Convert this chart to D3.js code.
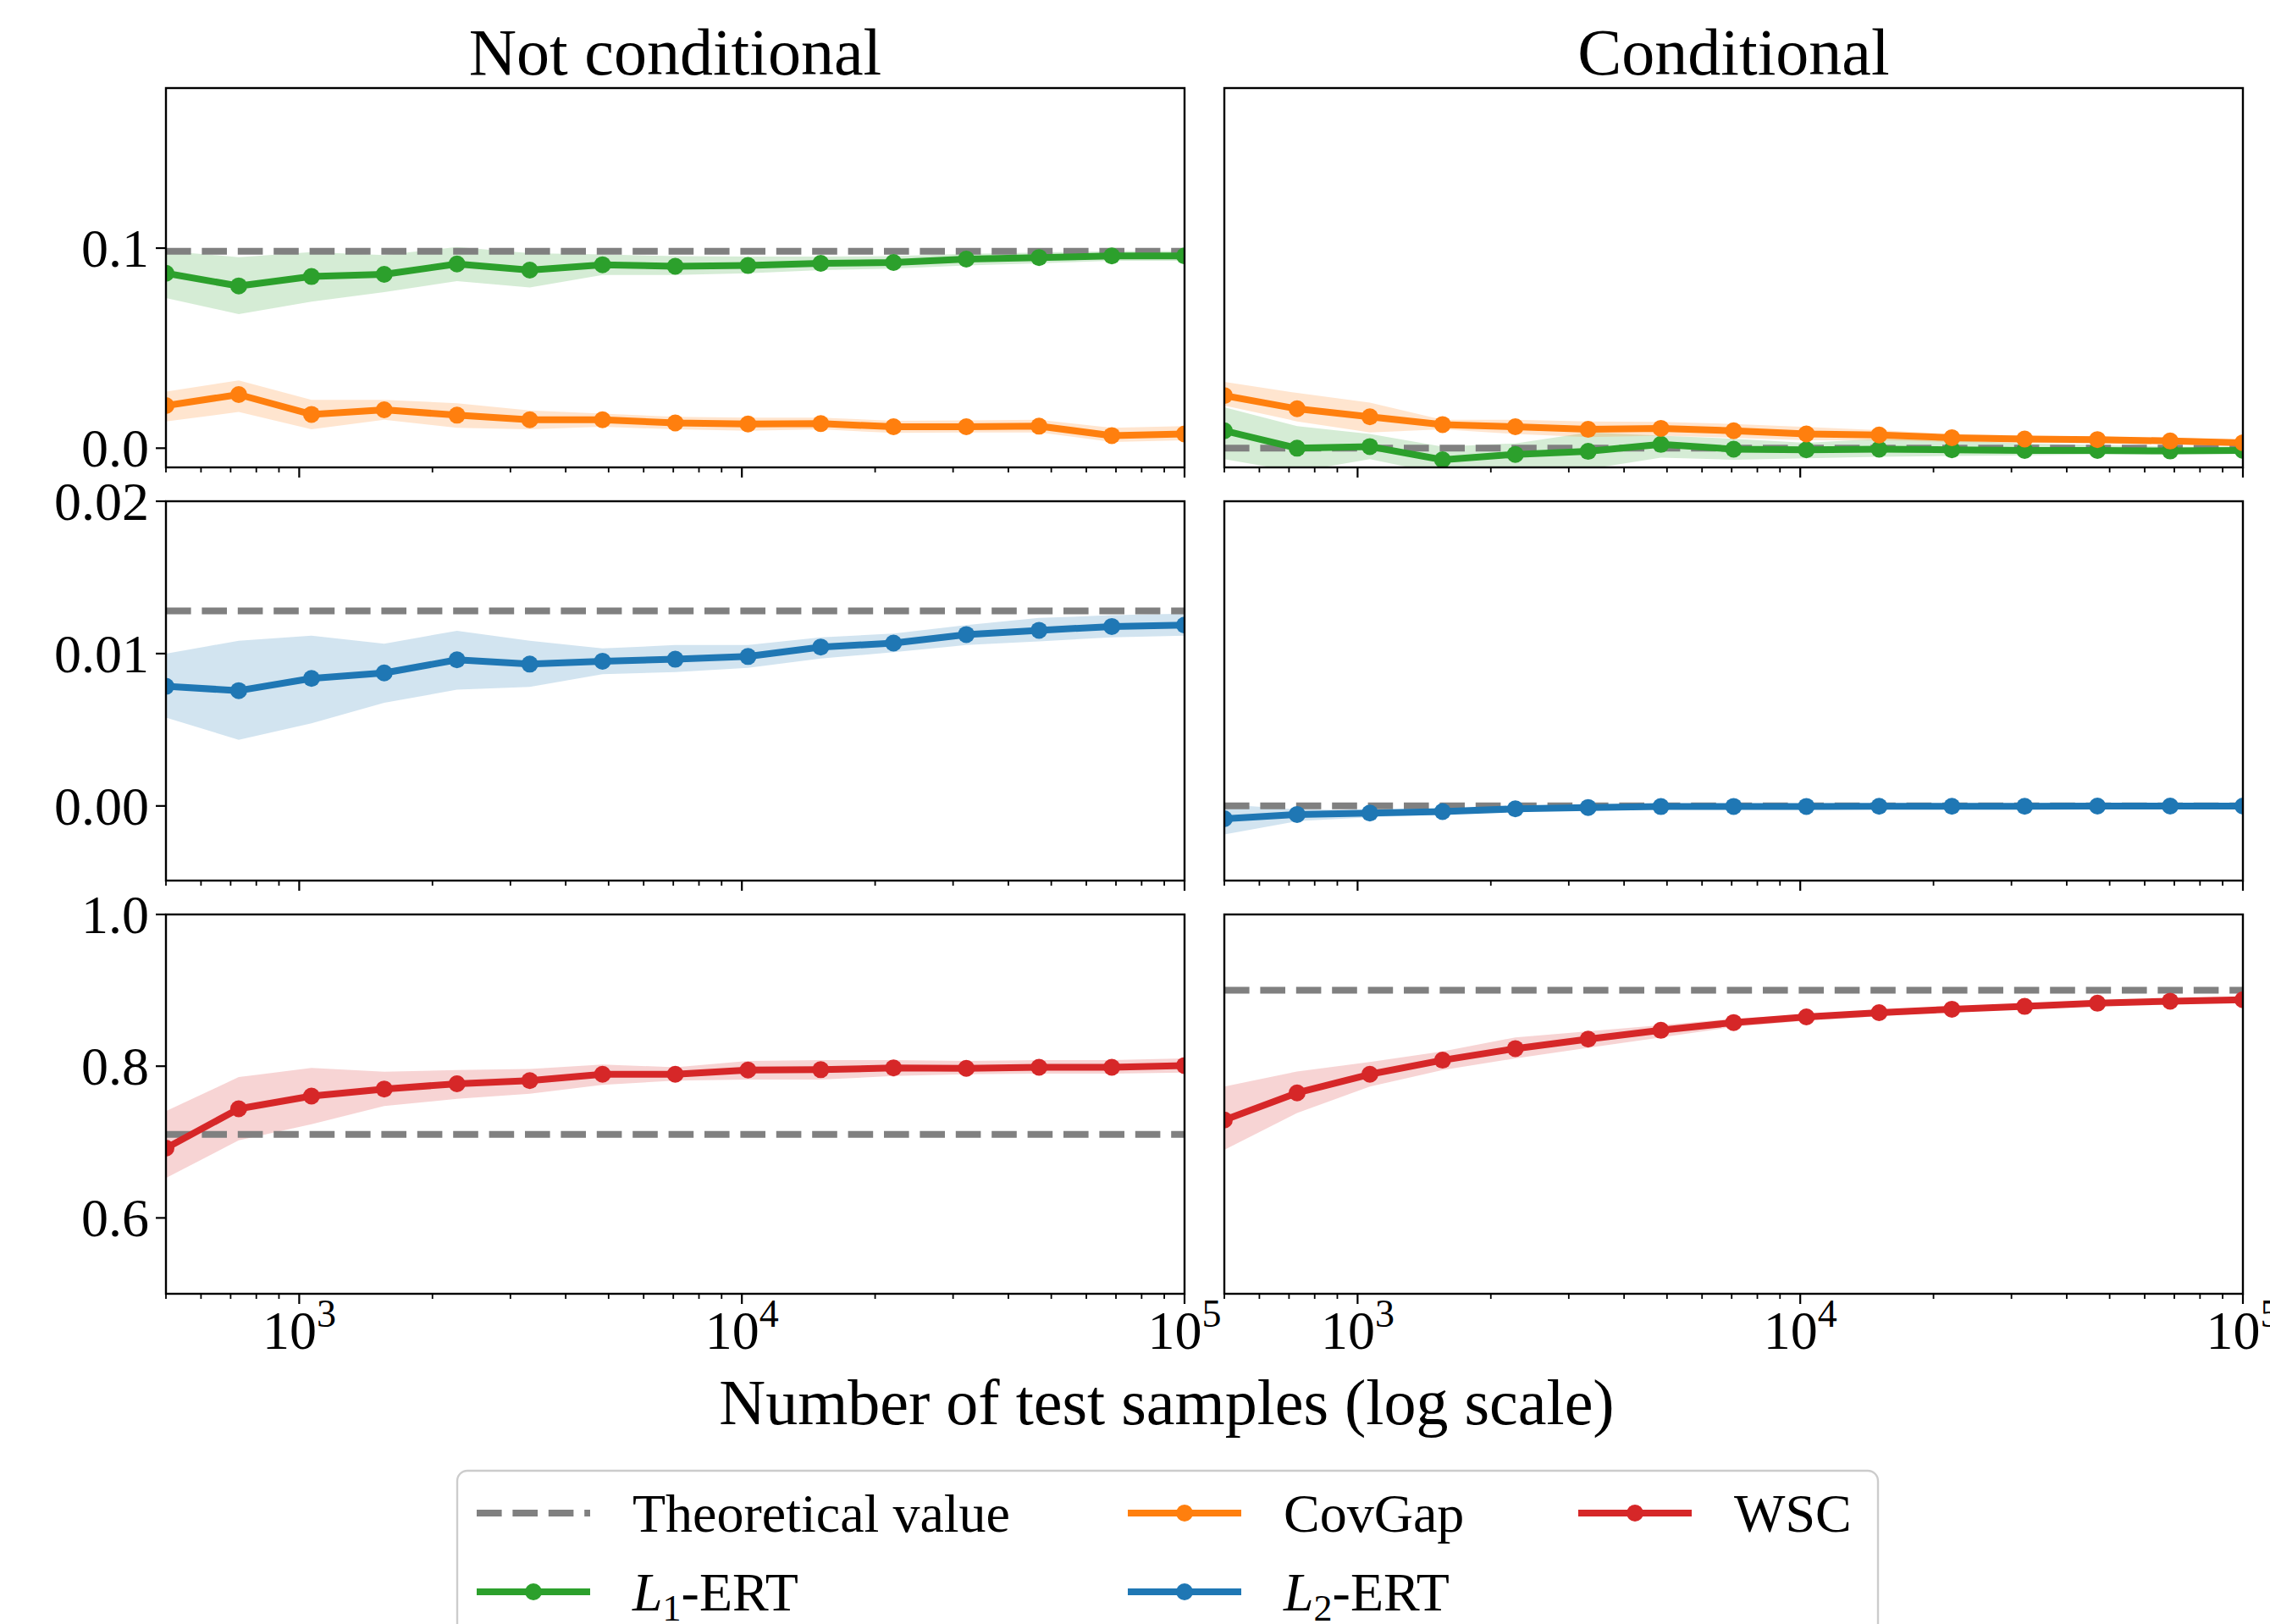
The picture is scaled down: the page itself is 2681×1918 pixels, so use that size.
<!DOCTYPE html>
<html>
<head>
<meta charset="utf-8">
<script src="https://d3js.org/d3.v7.min.js"></script>
<style>
  body { margin: 0; background: #fff; }
  text { font-family: "Liberation Serif", "DejaVu Serif", serif; fill: #000; }
</style>
</head>
<body>
<svg id="chart" width="2681" height="1918"></svg>
<script>
// number of test samples (log-spaced)
const xSamples = [500, 730, 1066, 1556, 2272, 3318, 4844, 7072, 10324, 15073, 22008, 32135, 46918, 68503, 100000];

const colTitles = ['Not conditional', 'Conditional'];

// row 1 : L1-ERT and CovGap
const l1Not   = [0.0874, 0.0811, 0.0858, 0.0869, 0.0921, 0.0890, 0.0917, 0.0909, 0.0913, 0.0924, 0.0928, 0.0945, 0.0953, 0.0961, 0.0961];
const l1NotLo = [0.0750, 0.0670, 0.0732, 0.0780, 0.0835, 0.0803, 0.0866, 0.0866, 0.0874, 0.0890, 0.0898, 0.0913, 0.0924, 0.0937, 0.0937];
const l1NotHi = [0.0985, 0.0955, 0.0980, 0.0965, 0.1005, 0.0975, 0.0968, 0.0960, 0.0958, 0.0958, 0.0960, 0.0972, 0.0978, 0.0985, 0.0985];
const covNot   = [0.0213, 0.0268, 0.0169, 0.0192, 0.0165, 0.0142, 0.0142, 0.0126, 0.0121, 0.0123, 0.0107, 0.0107, 0.0110, 0.0063, 0.0071];
const covNotLo = [0.0134, 0.0181, 0.0094, 0.0142, 0.0102, 0.0094, 0.0107, 0.0094, 0.0087, 0.0094, 0.0076, 0.0079, 0.0079, 0.0031, 0.0039];
const covNotHi = [0.0283, 0.0339, 0.0241, 0.0241, 0.0225, 0.0189, 0.0173, 0.0157, 0.0153, 0.0153, 0.0137, 0.0139, 0.0142, 0.0102, 0.0110];

const l1Cond   = [0.0087, 0.0000, 0.0008, -0.0058, -0.0031, -0.0016, 0.0019, -0.0005, -0.0008, -0.0005, -0.0008, -0.0011, -0.0011, -0.0014, -0.0011];
const l1CondLo = [-0.0055, -0.0118, -0.0055, -0.0130, -0.0125, -0.0105, -0.0047, -0.0058, -0.0050, -0.0043, -0.0039, -0.0036, -0.0031, -0.0031, -0.0027];
const l1CondHi = [0.0205, 0.0110, 0.0071, 0.0008, 0.0024, 0.0079, 0.0063, 0.0047, 0.0027, 0.0047, 0.0039, 0.0024, 0.0016, 0.0008, 0.0008];
const covCond   = [0.0263, 0.0197, 0.0157, 0.0118, 0.0107, 0.0094, 0.0099, 0.0087, 0.0071, 0.0066, 0.0052, 0.0046, 0.0043, 0.0036, 0.0027];
const covCondLo = [0.0213, 0.0134, 0.0079, 0.0094, 0.0071, 0.0055, 0.0063, 0.0052, 0.0039, 0.0039, 0.0031, 0.0027, 0.0024, 0.0019, 0.0011];
const covCondHi = [0.0331, 0.0276, 0.0228, 0.0142, 0.0142, 0.0134, 0.0131, 0.0121, 0.0106, 0.0090, 0.0071, 0.0063, 0.0058, 0.0052, 0.0043];

// row 2 : L2-ERT
const l2Not   = [0.00785, 0.00757, 0.00837, 0.00873, 0.00959, 0.00931, 0.00950, 0.00963, 0.00981, 0.01043, 0.01069, 0.01125, 0.01153, 0.01178, 0.01187];
const l2NotLo = [0.00580, 0.00434, 0.00542, 0.00677, 0.00763, 0.00781, 0.00865, 0.00879, 0.00907, 0.00968, 0.01009, 0.01056, 0.01080, 0.01107, 0.01118];
const l2NotHi = [0.01000, 0.01084, 0.01118, 0.01065, 0.01150, 0.01084, 0.01034, 0.01056, 0.01056, 0.01107, 0.01131, 0.01187, 0.01234, 0.01252, 0.01262];
const l2Cond   = [-0.00084, -0.00056, -0.00047, -0.00037, -0.00019, -0.00010, -0.00004, -0.00003, -0.00003, -0.00002, -0.00002, -0.00002, -0.00001, -0.00001, -0.00001];
const l2CondLo = [-0.00187, -0.00100, -0.00075, -0.00056, -0.00030, -0.00018, -0.00010, -0.00008, -0.00007, -0.00005, -0.00005, -0.00004, -0.00003, -0.00003, -0.00003];
const l2CondHi = [0.00010, -0.00022, -0.00028, -0.00025, -0.00010, -0.00003, 0.00001, 0.00001, 0.00001, 0.00001, 0.00001, 0.00001, 0.00001, 0.00001, 0.00001];

// row 3 : WSC
const wscNot   = [0.6920, 0.7439, 0.7606, 0.7699, 0.7768, 0.7810, 0.7893, 0.7893, 0.7949, 0.7954, 0.7977, 0.7972, 0.7986, 0.7986, 0.8009];
const wscNotLo = [0.6526, 0.7022, 0.7235, 0.7476, 0.7569, 0.7638, 0.7754, 0.7810, 0.7824, 0.7824, 0.7870, 0.7893, 0.7903, 0.7903, 0.7917];
const wscNotHi = [0.7407, 0.7856, 0.7977, 0.7926, 0.7949, 0.7963, 0.8023, 0.7986, 0.8070, 0.8079, 0.8079, 0.8070, 0.8079, 0.8079, 0.8102];
const wscCond   = [0.7291, 0.7648, 0.7893, 0.8079, 0.8232, 0.8357, 0.8473, 0.8575, 0.8649, 0.8705, 0.8751, 0.8788, 0.8830, 0.8857, 0.8876];
const wscCondLo = [0.6897, 0.7384, 0.7731, 0.7949, 0.8102, 0.8241, 0.8380, 0.8519, 0.8598, 0.8658, 0.8718, 0.8760, 0.8797, 0.8830, 0.8844];
const wscCondHi = [0.7731, 0.7930, 0.8056, 0.8195, 0.8380, 0.8459, 0.8542, 0.8626, 0.8681, 0.8737, 0.8774, 0.8820, 0.8857, 0.8885, 0.8913];

// theoretical values [not conditional, conditional] per row
const theoryRow1 = [0.0984, 0.0];
const theoryRow2 = [0.0128, 0.0];
const theoryRow3 = [0.71, 0.90];

const yTicksRow1 = [0.0, 0.1];
const yTicksRow2 = [0.00, 0.01, 0.02];
const yTicksRow3 = [0.6, 0.8, 1.0];
const xMajorTicks = [1e3, 1e4, 1e5];
const xTickExp = ['3', '4', '5'];

const legendLabels = ['Theoretical value', 'L1-ERT', 'CovGap', 'L2-ERT', 'WSC'];

const colors = { l1: '#2ca02c', cov: '#ff7f0e', l2: '#1f77b4', wsc: '#d62728', theory: '#808080' };

const rows = [
  { domain: [-0.0096, 0.18], ticks: yTicksRow1, fmt: d3.format('.1f'), theory: theoryRow1,
    series: [[{k: 'l1', m: l1Not, lo: l1NotLo, hi: l1NotHi}, {k: 'cov', m: covNot, lo: covNotLo, hi: covNotHi}],
             [{k: 'l1', m: l1Cond, lo: l1CondLo, hi: l1CondHi}, {k: 'cov', m: covCond, lo: covCondLo, hi: covCondHi}]] },
  { domain: [-0.0049, 0.02], ticks: yTicksRow2, fmt: d3.format('.2f'), theory: theoryRow2,
    series: [[{k: 'l2', m: l2Not, lo: l2NotLo, hi: l2NotHi}], [{k: 'l2', m: l2Cond, lo: l2CondLo, hi: l2CondHi}]] },
  { domain: [0.5, 1.0], ticks: yTicksRow3, fmt: d3.format('.1f'), theory: theoryRow3,
    series: [[{k: 'wsc', m: wscNot, lo: wscNotLo, hi: wscNotHi}], [{k: 'wsc', m: wscCond, lo: wscCondLo, hi: wscCondHi}]] }
];

const svg = d3.select('#chart');
svg.append('rect').attr('width', 2681).attr('height', 1918).attr('fill', '#fff');

const colX = [196, 1446], panelW = 1203;
const rowY = [104, 592, 1080], panelH = 448;
const tickFont = 64;

const minorTicks = [];
[100, 1000, 10000].forEach(b => { for (let i = 2; i <= 9; i++) { const v = b * i; if (v >= 500 && v <= 1e5) minorTicks.push(v); } });

rows.forEach((row, r) => {
  [0, 1].forEach(c => {
    const x0 = colX[c], y0 = rowY[r];
    const x = d3.scaleLog().domain([500, 1e5]).range([x0, x0 + panelW]);
    const y = d3.scaleLinear().domain(row.domain).range([y0 + panelH, y0]);
    const id = 'clip' + r + c;
    svg.append('clipPath').attr('id', id).append('rect')
      .attr('x', x0).attr('y', y0).attr('width', panelW).attr('height', panelH);
    const g = svg.append('g').attr('clip-path', 'url(#' + id + ')');

    const area = d3.area().x((d, i) => x(xSamples[i])).y0(d => y(d[0])).y1(d => y(d[1]));
    const line = d3.line().x((d, i) => x(xSamples[i])).y(d => y(d));

    row.series[c].forEach(s => {
      g.append('path').datum(s.lo.map((v, i) => [v, s.hi[i]]))
        .attr('d', area).attr('fill', colors[s.k]).attr('fill-opacity', 0.2);
    });
    g.append('line').attr('x1', x0).attr('x2', x0 + panelW)
      .attr('y1', y(row.theory[c])).attr('y2', y(row.theory[c]))
      .attr('stroke', colors.theory).attr('stroke-width', 8).attr('stroke-dasharray', '29.6,12.8');
    row.series[c].forEach(s => {
      g.append('path').datum(s.m).attr('d', line).attr('fill', 'none')
        .attr('stroke', colors[s.k]).attr('stroke-width', 8).attr('stroke-linejoin', 'round');
      g.selectAll(null).data(s.m).enter().append('circle')
        .attr('cx', (d, i) => x(xSamples[i])).attr('cy', d => y(d)).attr('r', 10)
        .attr('fill', colors[s.k]);
    });

    // ticks
    const ax = svg.append('g');
    const yb = y0 + panelH;
    ax.selectAll(null).data(xMajorTicks).enter().append('line')
      .attr('x1', d => x(d)).attr('x2', d => x(d)).attr('y1', yb).attr('y2', yb + 12)
      .attr('stroke', '#000').attr('stroke-width', 2.2);
    ax.selectAll(null).data(minorTicks).enter().append('line')
      .attr('x1', d => x(d)).attr('x2', d => x(d)).attr('y1', yb).attr('y2', yb + 6)
      .attr('stroke', '#000').attr('stroke-width', 1.8);
    if (r === 2) {
      const t = ax.selectAll(null).data(xMajorTicks).enter().append('text')
        .attr('x', d => x(d)).attr('y', yb + 65).attr('text-anchor', 'middle')
        .attr('font-size', tickFont);
      t.append('tspan').text('10');
      t.append('tspan').attr('dy', -26).attr('font-size', 46).text((d, i) => xTickExp[i]);
    }
    if (c === 0) {
      ax.selectAll(null).data(row.ticks).enter().append('line')
        .attr('x1', x0 - 12).attr('x2', x0).attr('y1', d => y(d)).attr('y2', d => y(d))
        .attr('stroke', '#000').attr('stroke-width', 2.2);
      ax.selectAll(null).data(row.ticks).enter().append('text')
        .attr('x', x0 - 20).attr('y', d => y(d)).attr('dy', '0.34em')
        .attr('text-anchor', 'end').attr('font-size', tickFont).text(d => row.fmt(d));
    }
    ax.append('rect').attr('x', x0).attr('y', y0).attr('width', panelW).attr('height', panelH)
      .attr('fill', 'none').attr('stroke', '#000').attr('stroke-width', 2.4);

    if (r === 0) {
      svg.append('text').attr('x', x0 + panelW / 2).attr('y', 88).attr('text-anchor', 'middle')
        .attr('font-size', 78).text(colTitles[c]);
    }
  });
});

svg.append('text').attr('x', 1378).attr('y', 1682).attr('text-anchor', 'middle')
  .attr('font-size', 76).text('Number of test samples (log scale)');

// legend
const lg = svg.append('g');
lg.append('rect').attr('x', 540).attr('y', 1737).attr('width', 1678).attr('height', 240).attr('rx', 12)
  .attr('fill', '#fff').attr('fill-opacity', 0.8).attr('stroke', '#cccccc').attr('stroke-width', 2.4);
const legendKeys = ['theory', 'l1', 'cov', 'l2', 'wsc'];
const legCols = [563, 1332, 1864], legRows = [1787, 1880];
legendKeys.forEach((k, i) => {
  const col = Math.floor(i / 2), rr = i % 2;
  const hx = legCols[col], hy = legRows[rr];
  const e = lg.append('g');
  if (k === 'theory') {
    e.append('line').attr('x1', hx).attr('x2', hx + 134).attr('y1', hy).attr('y2', hy)
      .attr('stroke', colors.theory).attr('stroke-width', 8).attr('stroke-dasharray', '29.6,12.8');
  } else {
    e.append('line').attr('x1', hx).attr('x2', hx + 134).attr('y1', hy).attr('y2', hy)
      .attr('stroke', colors[k]).attr('stroke-width', 8);
    e.append('circle').attr('cx', hx + 67).attr('cy', hy).attr('r', 10).attr('fill', colors[k]);
  }
  const t = e.append('text').attr('x', hx + 184).attr('y', hy + 22).attr('font-size', 64);
  const lab = legendLabels[i];
  if (lab[0] === 'L' && /\d/.test(lab[1])) {
    t.append('tspan').attr('font-style', 'italic').text('L');
    t.append('tspan').attr('dy', 12).attr('font-size', 44).text(lab[1]);
    t.append('tspan').attr('dy', -12).text(lab.slice(2));
  } else {
    t.text(lab);
  }
});
</script>
</body>
</html>
